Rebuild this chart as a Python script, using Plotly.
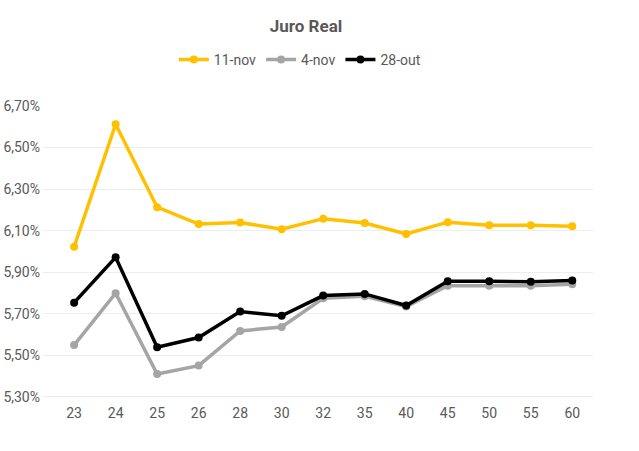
import plotly.graph_objects as go

categories = ["23", "24", "25", "26", "28", "30", "32", "35", "40", "45", "50", "55", "60"]
nov11 = [6.023, 6.612, 6.213, 6.132, 6.139, 6.107, 6.158, 6.137, 6.084, 6.141, 6.126, 6.126, 6.121]
nov4 = [5.550, 5.799, 5.411, 5.451, 5.618, 5.637, 5.775, 5.785, 5.735, 5.835, 5.835, 5.835, 5.842]
out28 = [5.754, 5.972, 5.539, 5.586, 5.711, 5.691, 5.788, 5.796, 5.740, 5.857, 5.857, 5.855, 5.860]
yticks = [5.3, 5.5, 5.7, 5.9, 6.1, 6.3, 6.5, 6.7]
yticklabels = [f"{v:.2f}%".replace(".", ",") for v in yticks]

series = [("11-nov", nov11, "#FFC000"), ("4-nov", nov4, "#A5A5A5"), ("28-out", out28, "#000000")]

fig = go.Figure()
for name, vals, col in series:
    fig.add_trace(go.Scatter(
        x=categories, y=vals, name=name, mode="lines+markers",
        line=dict(color=col, width=3.5), marker=dict(color=col, size=8),
    ))

fig.update_layout(
    width=639, height=451,
    margin=dict(l=43, r=46, t=106, b=54, autoexpand=False),
    paper_bgcolor="white", plot_bgcolor="white",
    font=dict(family="Roboto", size=14, color="#595959"),
    title=dict(text="<b>Juro Real</b>", x=306/639, xref="container", xanchor="center",
               y=1-26/451, yref="container", yanchor="middle",
               font=dict(size=17, color="#595959")),
    legend=dict(orientation="h", x=0.467, xanchor="center", y=1+(106-60)/291, yanchor="middle",
                font=dict(size=14, color="#595959"), bgcolor="rgba(0,0,0,0)"),
    showlegend=True,
)
fig.update_xaxes(type="category", range=[-0.75, 12.5], showgrid=False, showline=False,
                 automargin=False, ticks="", ticklabelstandoff=6,
                 tickfont=dict(size=14, color="#595959"))
fig.update_yaxes(range=[5.3, 6.7], tickvals=yticks, ticktext=yticklabels,
                 showgrid=True, gridcolor="#EDEDED", gridwidth=1, zeroline=False,
                 showline=False, automargin=False, ticklabelstandoff=2,
                 tickfont=dict(size=14, color="#595959"))
fig.add_shape(type="line", xref="paper", yref="y", x0=0, x1=1, y0=5.3, y1=5.3,
              line=dict(color="#D9D9D9", width=1))

fig.write_html("out.html")
